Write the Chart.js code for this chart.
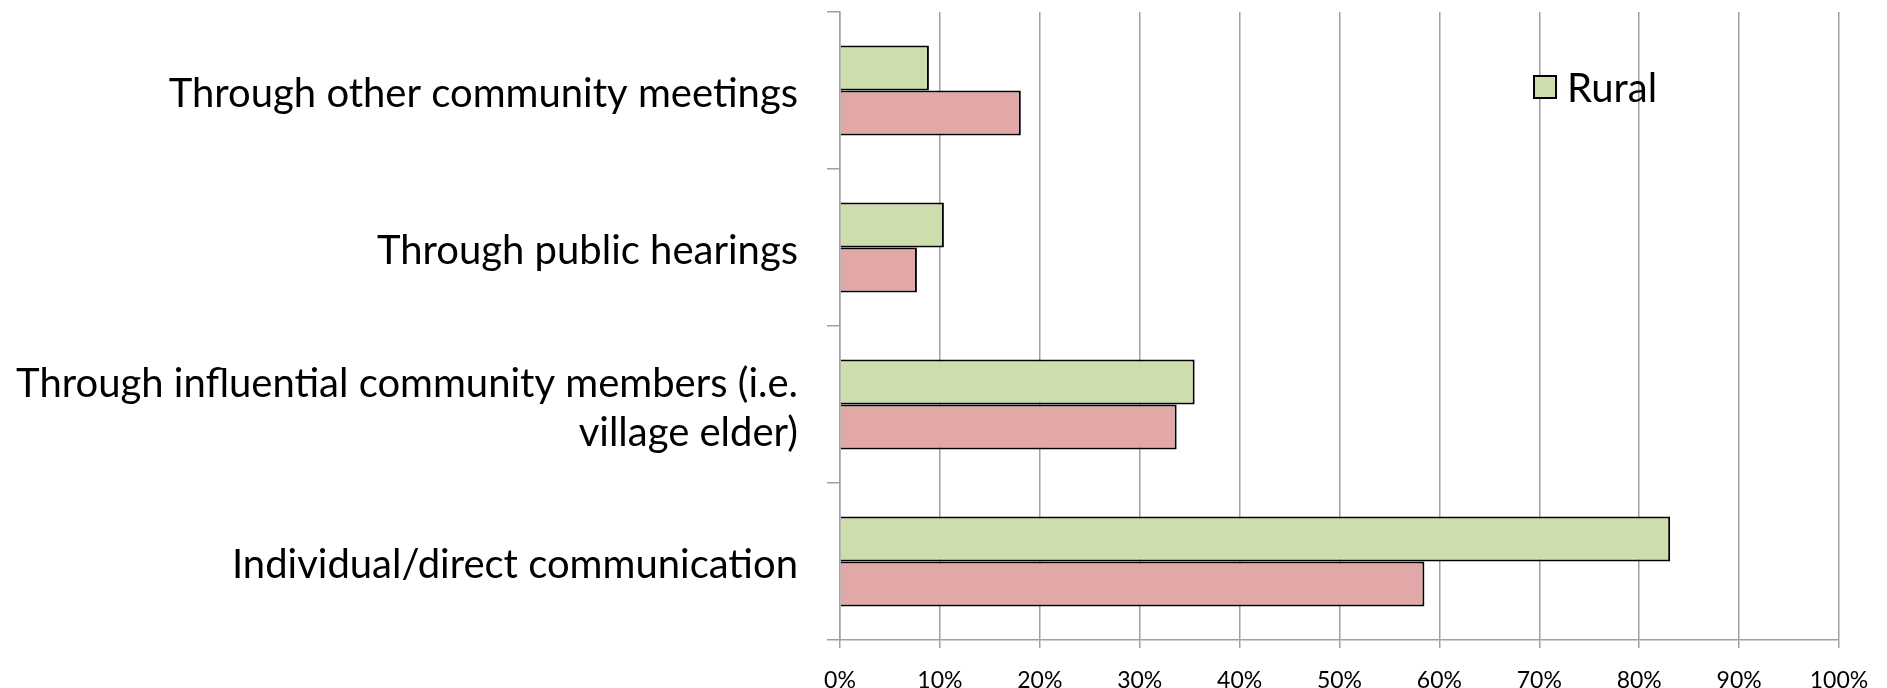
<!DOCTYPE html>
<html>
<head>
<meta charset="utf-8">
<script src="https://cdn.jsdelivr.net/npm/chart.js@4.4.1/dist/chart.umd.min.js"></script>
<style>
  html, body { margin: 0; padding: 0; background: #fff; }
  #wrap { width: 1887px; height: 688px; position: relative; }
</style>
</head>
<body>
<div id="wrap"><canvas id="chart"></canvas></div>
<script>
// Chart data
const categories = [
    'Through other community meetings',
    'Through public hearings',
    ['Through influential community members (i.e.', 'village elder)'],
    'Individual/direct communication'
];
const ruralValues = [8.9, 10.4, 35.5, 83.1];
const urbanValues = [18.1, 7.7, 33.7, 58.5];
const xTicks = [0, 10, 20, 30, 40, 50, 60, 70, 80, 90, 100];

const FONT = 'Lato, "Open Sans", sans-serif';
const GRID = '#a0a0a0';

// Legend drawn inside plot area (only Rural shows in the original)
const insideLegend = {
    id: 'insideLegend',
    afterDraw(chart) {
        const c = chart.ctx;
        const area = chart.chartArea;
        const ds = chart.data.datasets[0];
        const x = area.right - 305;
        const y = area.top + 64;
        c.save();
        c.fillStyle = ds.backgroundColor;
        c.fillRect(x, y, 22, 22);
        c.lineWidth = 2;
        c.strokeStyle = '#000';
        c.strokeRect(x, y, 22, 22);
        c.fillStyle = '#000';
        c.font = '40px ' + FONT;
        c.textBaseline = 'middle';
        c.fillText(ds.label, x + 33, y + 13);
        c.restore();
    }
};

const ctx = document.getElementById('chart').getContext('2d');
new Chart(ctx, {
    type: 'bar',
    data: {
        labels: categories,
        datasets: [{
            label: 'Rural',
            data: ruralValues,
            backgroundColor: 'rgb(205, 221, 172)',
            borderColor: '#000',
            borderWidth: 2,
            categoryPercentage: 0.573,
            barPercentage: 1.0
        }, {
            label: 'Urban',
            data: urbanValues,
            backgroundColor: 'rgb(226, 168, 167)',
            borderColor: '#000',
            borderWidth: 2,
            categoryPercentage: 0.573,
            barPercentage: 1.0
        }]
    },
    options: {
        indexAxis: 'y',
        responsive: true,
        maintainAspectRatio: false,
        animation: false,
        layout: { padding: { top: 12, right: 48, left: 0, bottom: 0 } },
        scales: {
            x: {
                min: 0,
                max: 100,
                afterBuildTicks: (scale) => { scale.ticks = xTicks.map(v => ({ value: v })); },
                afterFit: (scale) => {
                    scale.height = 48;
                    scale.paddingLeft = 0;
                    scale.paddingRight = 0;
                },
                grid: { color: GRID, lineWidth: 1.5, tickLength: 8 },
                border: { color: GRID, width: 1.5 },
                ticks: {
                    color: '#000',
                    padding: 19,
                    font: { family: FONT, size: 23 },
                    callback: (v) => v + '%'
                }
            },
            y: {
                afterFit: (scale) => {
                    scale.width = 840;
                    scale.paddingTop = 0;
                    scale.paddingBottom = 0;
                },
                grid: { drawOnChartArea: false, color: GRID, lineWidth: 1.5, tickLength: 13, offset: true },
                border: { color: GRID, width: 1.5 },
                ticks: {
                    color: '#000',
                    padding: 29,
                    labelOffset: 4,
                    font: { family: FONT, size: 40, lineHeight: 1.23 }
                }
            }
        },
        plugins: {
            legend: { display: false },
            tooltip: { enabled: false }
        }
    },
    plugins: [insideLegend]
});
</script>
</body>
</html>
